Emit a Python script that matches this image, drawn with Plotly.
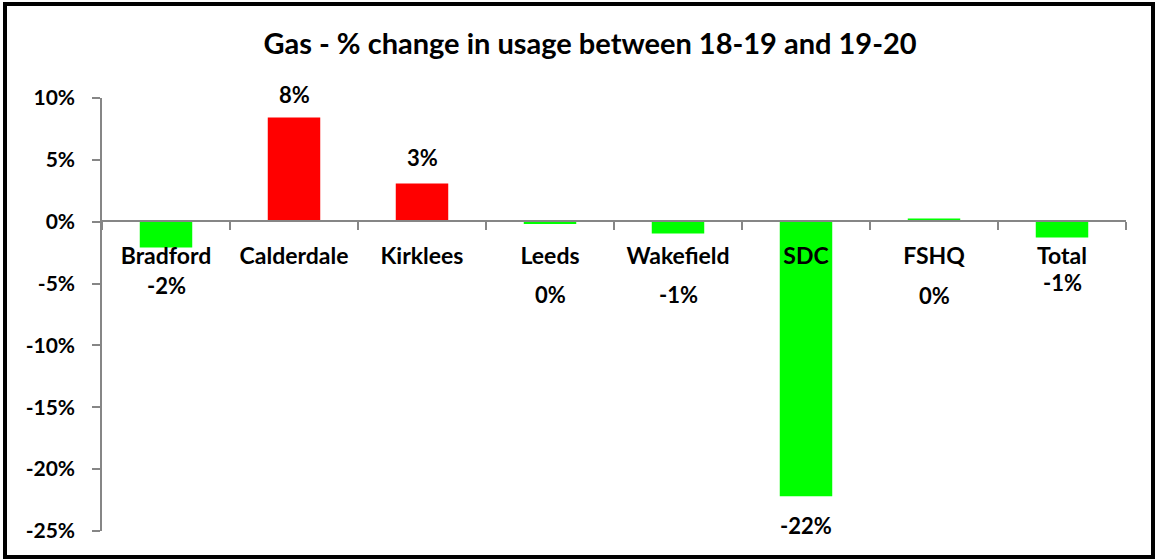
import plotly.graph_objects as go

# Data
sites = ["Bradford", "Calderdale", "Kirklees", "Leeds", "Wakefield", "SDC", "FSHQ", "Total"]
change_pct = [-2.08, 8.42, 3.08, -0.18, -0.95, -22.2, 0.25, -1.27]
label_text = ["-2%", "8%", "3%", "0%", "-1%", "-22%", "0%", "-1%"]

# Label offsets in pixels from the bar end (Excel labels were nudged by hand)
label_shift = [-38, 23, 26, -71, -61, -29, -77, -45]

FONT = "Lato"

colors = ["#ff0000" if v > 0.5 else "#00ff00" for v in change_pct]

fig = go.Figure()
fig.add_trace(
    go.Bar(
        x=sites,
        y=change_pct,
        marker=dict(color=colors, line=dict(width=0)),
        width=0.41,
        hovertemplate="%{x}: %{y:.1f}%<extra></extra>",
        showlegend=False,
    )
)

for site, val, txt, dy in zip(sites, change_pct, label_text, label_shift):
    fig.add_annotation(
        x=site,
        y=val,
        yshift=dy,
        text=txt,
        showarrow=False,
        font=dict(family=FONT, size=22, color="black", weight="bold"),
    )

fig.update_layout(
    width=1157,
    height=560,
    margin=dict(l=102, r=31, t=98, b=29),
    paper_bgcolor="white",
    plot_bgcolor="white",
    font=dict(family=FONT, color="black"),
    title=dict(
        text="<b>Gas - % change in usage between 18-19 and 19-20</b>",
        x=0.51,
        xanchor="center",
        y=0.922,
        yanchor="middle",
        font=dict(family=FONT, size=29, color="black"),
    ),
    shapes=[
        dict(
            type="rect",
            xref="paper",
            yref="paper",
            x0=-97 / 1024,
            x1=1 + 27 / 1024,
            y0=-26 / 433,
            y1=1 + 94 / 433,
            line=dict(color="black", width=4),
            fillcolor="rgba(0,0,0,0)",
            layer="below",
        )
    ],
)

fig.update_xaxes(
    type="category",
    anchor="free",
    position=310 / 433,
    showline=True,
    linecolor="#868686",
    linewidth=1.5,
    ticks="outside",
    tickson="boundaries",
    ticklen=8,
    tickcolor="#868686",
    tickwidth=1.5,
    ticklabelstandoff=15,
    tickfont=dict(family=FONT, size=23, color="black", weight="bold"),
    showgrid=False,
    zeroline=False,
)

fig.update_yaxes(
    range=[-25, 10],
    tickvals=[10, 5, 0, -5, -10, -15, -20, -25],
    ticktext=["10%", "5%", "0%", "-5%", "-10%", "-15%", "-20%", "-25%"],
    showline=True,
    linecolor="#868686",
    linewidth=1.5,
    ticks="outside",
    ticklen=8,
    tickcolor="#868686",
    tickwidth=1.5,
    ticklabelstandoff=13,
    tickfont=dict(family=FONT, size=21, color="black", weight="bold"),
    showgrid=False,
    zeroline=False,
)

fig.write_html(
    "out.html",
    config={"displayModeBar": False},
    post_script="document.body.style.margin = '0';",
)
